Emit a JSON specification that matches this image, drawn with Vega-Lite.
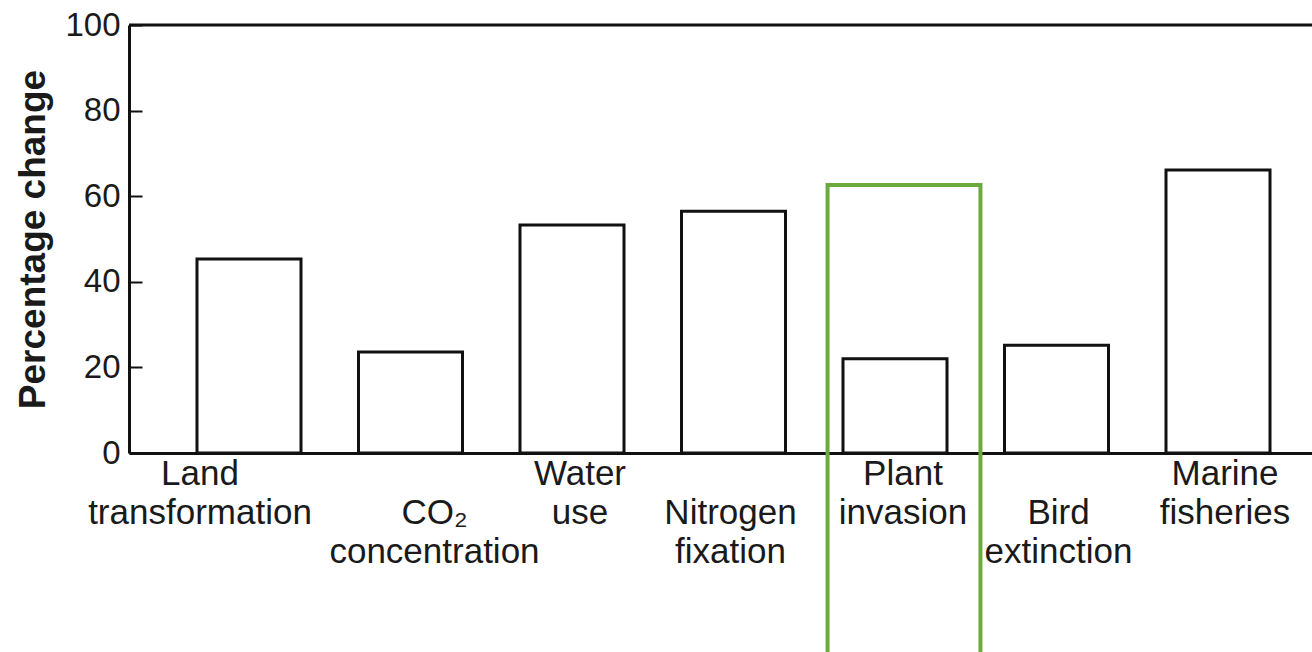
{
  "$schema": "https://vega.github.io/schema/vega-lite/v6.json",
  "width": 1183,
  "height": 428,
  "autosize": {"type": "none"},
  "padding": {"left": 129, "top": 25, "right": 0, "bottom": 199},
  "background": "white",
  "config": {
    "view": {"stroke": null},
    "font": "Liberation Sans",
    "axis": {"labelColor": "#1a1a1a", "titleColor": "#1a1a1a", "domainColor": "#111", "tickColor": "#111", "grid": false}
  },
  "data": {
    "values": [
      {"category": "Land\ntransformation", "value": 45.3, "highlight": false},
      {"category": "\nCO₂\nconcentration", "value": 23.6, "highlight": false},
      {"category": "Water\nuse", "value": 53.3, "highlight": false},
      {"category": "\nNitrogen\nfixation", "value": 56.5, "highlight": false},
      {"category": "Plant\ninvasion", "value": 22, "highlight": true},
      {"category": "\nBird\nextinction", "value": 25.2, "highlight": false},
      {"category": "Marine\nfisheries", "value": 66.1, "highlight": false}
    ]
  },
  "layer": [
    {
      "mark": {"type": "bar", "fill": "white", "stroke": "#111", "strokeWidth": 3},
      "encoding": {
        "x": {
          "field": "category", "type": "nominal", "sort": null,
          "scale": {"paddingInner": 0.356, "paddingOuter": 0.421, "range": [0, 1209]},
          "axis": {
            "title": null, "labelAngle": 0, "ticks": false, "domainWidth": 3,
            "labelFontSize": 35, "labelLineHeight": 39, "labelPadding": 3,
            "labelBaseline": "top", "labelExpr": "split(datum.value, '\\n')",
            "labelOverlap": false, "labelLimit": 400,
            "labelOffset": {
              "condition": [
                {"test": "indexof(datum.value, 'Land') >= 0", "value": -49},
                {"test": "indexof(datum.value, 'CO') >= 0", "value": 24},
                {"test": "indexof(datum.value, 'Water') >= 0", "value": 8},
                {"test": "indexof(datum.value, 'Nitrogen') >= 0", "value": -3},
                {"test": "indexof(datum.value, 'Plant') >= 0", "value": 8},
                {"test": "indexof(datum.value, 'Marine') >= 0", "value": 7}
              ],
              "value": 2
            }
          }
        },
        "y": {
          "field": "value", "type": "quantitative",
          "scale": {"domain": [0, 100], "nice": false},
          "axis": {
            "title": "Percentage change", "values": [0, 20, 40, 60, 80, 100],
            "domainWidth": 3, "ticks": false, "labelPadding": 9,
            "grid": true, "gridColor": "#111", "gridWidth": 2, "gridDash": [13, 4000],
            "labelFontSize": 33, "titleFontSize": 37, "titleFontWeight": "bold",
            "titlePadding": 12
          }
        }
      }
    },
    {
      "data": {"values": [{"top": 100}]},
      "mark": {"type": "rule", "color": "#111", "strokeWidth": 3},
      "encoding": {"y": {"field": "top", "type": "quantitative"}}
    },
    {
      "transform": [{"filter": "datum.highlight"}],
      "mark": {"type": "bar", "filled": false, "stroke": "#6aaa3f", "strokeWidth": 4, "width": {"band": 1.47}, "xOffset": 9},
      "encoding": {
        "x": {"field": "category", "type": "nominal", "sort": null},
        "y": {"datum": 62.6},
        "y2": {"datum": -60}
      }
    }
  ]
}
